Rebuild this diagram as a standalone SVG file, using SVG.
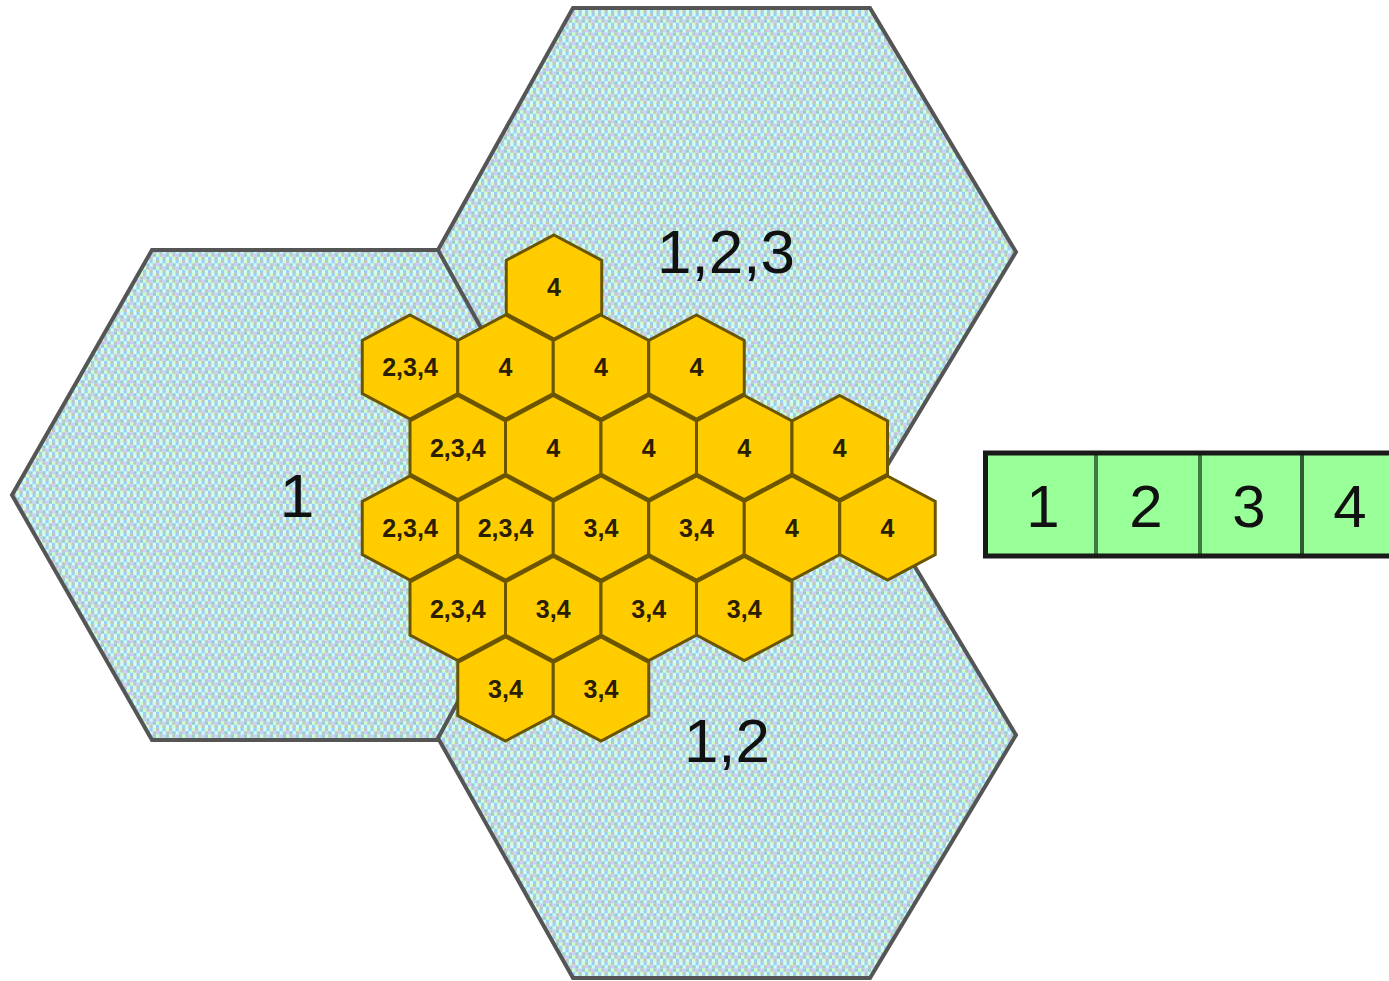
<svg xmlns="http://www.w3.org/2000/svg" width="1389" height="981" viewBox="0 0 1389 981">
<defs>
<pattern id="dither" patternUnits="userSpaceOnUse" width="13" height="13">
<rect width="13" height="13" fill="#ccffff"/>
<rect x="0" y="0" width="3.3" height="3.3" fill="#c4c4c4"/>
<rect x="6.5" y="0" width="3.3" height="3.3" fill="#a0ccf8"/>
<rect x="9.8" y="0" width="3.3" height="3.3" fill="#ccffcc"/>
<rect x="0" y="3.3" width="3.3" height="3.3" fill="#ccccff"/>
<rect x="3.3" y="3.3" width="3.3" height="3.3" fill="#99cccc"/>
<rect x="9.8" y="3.3" width="3.3" height="3.3" fill="#c4c4c4"/>
<rect x="0" y="6.5" width="3.3" height="3.3" fill="#ccffcc"/>
<rect x="3.3" y="6.5" width="3.3" height="3.3" fill="#c4c4c4"/>
<rect x="6.5" y="6.5" width="3.3" height="3.3" fill="#ccccff"/>
<rect x="9.8" y="6.5" width="3.3" height="3.3" fill="#99cccc"/>
<rect x="0" y="9.8" width="3.3" height="3.3" fill="#a0ccf8"/>
<rect x="3.3" y="9.8" width="3.3" height="3.3" fill="#ccffcc"/>
<rect x="6.5" y="9.8" width="3.3" height="3.3" fill="#c4c4c4"/>
</pattern>
<polygon id="cell" points="0,-52 47.75,-26.7 47.75,26.7 0,52 -47.75,26.7 -47.75,-26.7"/>
</defs>
<style>
.big{fill:url(#dither);stroke:#555555;stroke-width:4;stroke-linejoin:miter}
.bigt{font-family:"Liberation Sans",Arial,sans-serif;font-size:62px;fill:#111111;text-anchor:middle}
.hx{fill:#ffcc00;stroke:#6b5500;stroke-width:3}
.ht{font-family:"Liberation Sans",Arial,sans-serif;font-size:25px;font-weight:bold;fill:#2a2000;text-anchor:middle}
.box{fill:#99ff99}
.bt{font-family:"Liberation Sans",Arial,sans-serif;font-size:60px;fill:#111111;text-anchor:middle}
</style>
<rect width="1389" height="981" fill="#ffffff"/>

<g id="hex-1">
<polygon class="big" points="152,250 440,250 580,495 440,740 152,740 12,495"/>
</g>
<g id="hex-123">
<polygon class="big" points="573,8 870,8 1016,252 870,494 573,494 438,250"/>
</g>
<g id="hex-12">
<polygon class="big" points="573,492 870,492 1016,735 870,978 573,978 438,738"/>
</g>
<g id="big-labels">
<text class="bigt" x="297" y="517">1</text>
<text class="bigt" x="726" y="273">1,2,3</text>
<text class="bigt" x="727" y="762">1,2</text>
</g>

<g id="cells">
<g id="c0-0"><use href="#cell" class="hx" x="554" y="287"/><text class="ht" x="554" y="296">4</text></g>

<g id="c1-0"><use href="#cell" class="hx" x="410" y="367"/><text class="ht" x="410" y="376">2,3,4</text></g>
<g id="c1-1"><use href="#cell" class="hx" x="505.5" y="367"/><text class="ht" x="505.5" y="376">4</text></g>
<g id="c1-2"><use href="#cell" class="hx" x="601" y="367"/><text class="ht" x="601" y="376">4</text></g>
<g id="c1-3"><use href="#cell" class="hx" x="696.5" y="367"/><text class="ht" x="696.5" y="376">4</text></g>

<g id="c2-0"><use href="#cell" class="hx" x="457.75" y="447.5"/><text class="ht" x="457.75" y="456.5">2,3,4</text></g>
<g id="c2-1"><use href="#cell" class="hx" x="553.25" y="447.5"/><text class="ht" x="553.25" y="456.5">4</text></g>
<g id="c2-2"><use href="#cell" class="hx" x="648.75" y="447.5"/><text class="ht" x="648.75" y="456.5">4</text></g>
<g id="c2-3"><use href="#cell" class="hx" x="744.25" y="447.5"/><text class="ht" x="744.25" y="456.5">4</text></g>
<g id="c2-4"><use href="#cell" class="hx" x="839.75" y="447.5"/><text class="ht" x="839.75" y="456.5">4</text></g>

<g id="c3-0"><use href="#cell" class="hx" x="410" y="528"/><text class="ht" x="410" y="537">2,3,4</text></g>
<g id="c3-1"><use href="#cell" class="hx" x="505.5" y="528"/><text class="ht" x="505.5" y="537">2,3,4</text></g>
<g id="c3-2"><use href="#cell" class="hx" x="601" y="528"/><text class="ht" x="601" y="537">3,4</text></g>
<g id="c3-3"><use href="#cell" class="hx" x="696.5" y="528"/><text class="ht" x="696.5" y="537">3,4</text></g>
<g id="c3-4"><use href="#cell" class="hx" x="792" y="528"/><text class="ht" x="792" y="537">4</text></g>
<g id="c3-5"><use href="#cell" class="hx" x="887.5" y="528"/><text class="ht" x="887.5" y="537">4</text></g>

<g id="c4-0"><use href="#cell" class="hx" x="457.75" y="608.5"/><text class="ht" x="457.75" y="617.5">2,3,4</text></g>
<g id="c4-1"><use href="#cell" class="hx" x="553.25" y="608.5"/><text class="ht" x="553.25" y="617.5">3,4</text></g>
<g id="c4-2"><use href="#cell" class="hx" x="648.75" y="608.5"/><text class="ht" x="648.75" y="617.5">3,4</text></g>
<g id="c4-3"><use href="#cell" class="hx" x="744.25" y="608.5"/><text class="ht" x="744.25" y="617.5">3,4</text></g>

<g id="c5-0"><use href="#cell" class="hx" x="505.5" y="689"/><text class="ht" x="505.5" y="698">3,4</text></g>
<g id="c5-1"><use href="#cell" class="hx" x="601" y="689"/><text class="ht" x="601" y="698">3,4</text></g>
</g>

<g id="channels">
<rect class="box" x="985" y="453" width="420" height="103"/>
<line x1="1096" y1="455" x2="1096" y2="554" stroke="#3f7a3f" stroke-width="4"/>
<line x1="1200" y1="455" x2="1200" y2="554" stroke="#3f7a3f" stroke-width="4"/>
<line x1="1302" y1="455" x2="1302" y2="554" stroke="#2f5a2f" stroke-width="4"/>
<path d="M1392,453 H985.5 V556 H1392" fill="none" stroke="#1a1a1a" stroke-width="5"/>
<text class="bt" x="1043" y="527">1</text>
<text class="bt" x="1146" y="527">2</text>
<text class="bt" x="1249" y="527">3</text>
<text class="bt" x="1350" y="527">4</text>
</g>
</svg>
